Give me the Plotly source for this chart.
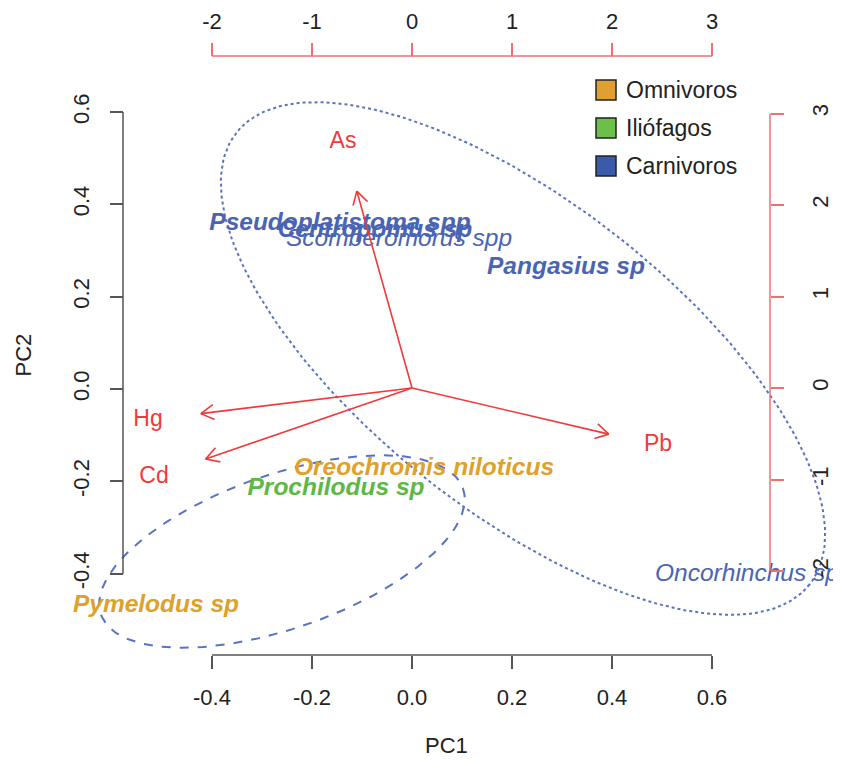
import numpy as np
import plotly.graph_objects as go

# ---------------- data ----------------
species = ["Pseudoplatistoma spp", "Centropomus sp", "Scomberomorus spp", "Pangasius sp",
           "Oreochromis niloticus", "Prochilodus sp", "Pymelodus sp", "Oncorhinchus sp"]
pc1 = [-0.144, -0.074, -0.026, 0.308, 0.024, -0.152, -0.512, 0.670]
pc2 = [0.357, 0.342, 0.322, 0.262, -0.173, -0.217, -0.470, -0.403]
group = ["Carnivoros", "Carnivoros", "Carnivoros", "Carnivoros",
         "Omnivoros", "Iliófagos", "Omnivoros", "Carnivoros"]
bold = [True, True, False, True, True, True, True, False]

metals = ["As", "Hg", "Cd", "Pb"]
load1 = [-0.69, -2.64, -2.58, 2.46]
load2 = [2.69, -0.35, -0.97, -0.63]

legend_labels = ["Omnivoros", "Iliófagos", "Carnivoros"]

x_ticks = [-0.4, -0.2, 0.0, 0.2, 0.4, 0.6]
y_ticks = [-0.4, -0.2, 0.0, 0.2, 0.4, 0.6]
x2_ticks = [-2, -1, 0, 1, 2, 3]
y2_ticks = [-2, -1, 0, 1, 2, 3]

# ellipses (center, two half-axis vectors in PC units)
ell_cx = [0.222, -0.26]
ell_cy = [0.066, -0.352]
ell_ax = [(0.573, -0.4895), (0.362, 0.1365)]
ell_bx = [(-0.192, -0.262), (0.0507, -0.1575)]
ell_dash = ["dot", "dash"]

# ---------------- style / geometry ----------------
FONT = "Liberation Sans, Arial, Helvetica, sans-serif"
group_text_color = {"Omnivoros": "#E0A02C", "Iliófagos": "#5DB845", "Carnivoros": "#4A64B4"}
legend_fill = {"Omnivoros": "#E0A030", "Iliófagos": "#6CC04A", "Carnivoros": "#3A5BAA"}
RED = "#F03A3A"
AXRED = "#F07070"
GRAY = "#555555"
ELL = "#5A72C2"
TXT = "#222222"

OFF = 8  # page body margin of the browser
W, H = 841 - OFF, 761 - OFF


def PX(v):
    return v - OFF


# plot box (pixels) where the R axes sit
BL, BR, BT, BB = PX(123), PX(770), PX(56), PX(655)
# pixel mapping of the four scales (full figure used as plotting area)
X0PX, XPX = PX(412), 500.0     # PC1: pixel of 0, pixels per unit
Y0PX, YPX = PX(389), 461.7     # PC2
X20PX, X2PX = PX(412), 100.0   # loadings x
Y20PX, Y2PX = PX(388), 91.5    # loadings y

xr = [(0 - X0PX) / XPX, (W - X0PX) / XPX]
yr = [(Y0PX - H) / YPX, Y0PX / YPX]
x2r = [(0 - X20PX) / X2PX, (W - X20PX) / X2PX]
y2r = [(Y20PX - H) / Y2PX, Y20PX / Y2PX]

fig = go.Figure()

# ellipses
t = np.linspace(0, 2 * np.pi, 240)
for cx, cy, a, b, d in zip(ell_cx, ell_cy, ell_ax, ell_bx, ell_dash):
    ex = cx + np.cos(t) * a[0] + np.sin(t) * b[0]
    ey = cy + np.cos(t) * a[1] + np.sin(t) * b[1]
    fig.add_trace(go.Scatter(x=ex, y=ey, mode="lines",
                             line=dict(color=ELL, width=2, dash=d),
                             hoverinfo="skip", xaxis="x", yaxis="y"))

# arrows (biplot: arrows drawn to 0.8 * loading, labels at loading)
sx, sy = X2PX, Y2PX
ax_x, ax_y, hx, hy = [], [], [], []
L = 15
for l1, l2 in zip(load1, load2):
    tx, ty = 0.8 * l1, 0.8 * l2
    ax_x += [0, tx, None]
    ax_y += [0, ty, None]
    th = np.arctan2(ty * sy, tx * sx)
    for s in (+1, -1):
        ang = th + s * np.pi / 6
        hx += [tx, tx - L * np.cos(ang) / sx, None]
        hy += [ty, ty - L * np.sin(ang) / sy, None]
fig.add_trace(go.Scatter(x=ax_x, y=ax_y, mode="lines", line=dict(color=RED, width=1.6),
                         xaxis="x2", yaxis="y2", hoverinfo="skip"))
fig.add_trace(go.Scatter(x=hx, y=hy, mode="lines", line=dict(color=RED, width=1.6),
                         xaxis="x2", yaxis="y2", hoverinfo="skip"))
fig.add_trace(go.Scatter(x=load1, y=load2, mode="text", text=metals,
                         textposition="middle center", cliponaxis=False,
                         textfont=dict(family=FONT, size=23, color=RED),
                         xaxis="x2", yaxis="y2", hoverinfo="skip"))

# species labels
labels = []
for s, b in zip(species, bold):
    labels.append(f"<b><i>{s}</i></b>" if b else f"<i>{s}</i>")
fig.add_trace(go.Scatter(x=pc1, y=pc2, mode="text", text=labels,
                         textposition="middle center", cliponaxis=False,
                         textfont=dict(family=FONT, size=24.5,
                                       color=[group_text_color[g] for g in group]),
                         xaxis="x", yaxis="y", hoverinfo="skip"))


def fmt(v):
    return f"{v:.1f}"


common = dict(showgrid=False, zeroline=False, showline=False, automargin=False,
              ticks="outside", ticklen=13, tickwidth=1.5, tickmode="array",
              tickfont=dict(size=22, color=TXT), anchor="free")

fig.update_layout(
    width=W, height=H, autosize=False,
    margin=dict(l=0, r=0, t=0, b=0, pad=0),
    plot_bgcolor="white", paper_bgcolor="white", showlegend=False,
    font=dict(family=FONT, size=22, color=TXT),
    xaxis=dict(range=xr, tickvals=x_ticks, ticktext=[fmt(v) for v in x_ticks],
               tickcolor=GRAY, side="bottom", position=1 - BB / H,
               ticklabelstandoff=10, **common),
    yaxis=dict(range=yr, tickvals=y_ticks, ticktext=[fmt(v) for v in y_ticks],
               tickcolor=GRAY, side="left", position=BL / W, tickangle=-90,
               ticklabelstandoff=12, **common),
    xaxis2=dict(range=x2r, overlaying="x", tickvals=x2_ticks, ticktext=[str(v) for v in x2_ticks],
                tickcolor=AXRED, side="top", position=1 - BT / H,
                ticklabelstandoff=5, **common),
    yaxis2=dict(range=y2r, overlaying="y", tickvals=y2_ticks, ticktext=[str(v) for v in y2_ticks],
                tickcolor=AXRED, side="right", position=BR / W, tickangle=-90,
                ticklabelstandoff=18, **common),
)

shapes = [
    dict(type="line", xref="x", yref="paper", x0=x_ticks[0], x1=x_ticks[-1],
         y0=1 - BB / H, y1=1 - BB / H, line=dict(color=GRAY, width=1.5)),
    dict(type="line", xref="paper", yref="y", x0=BL / W, x1=BL / W,
         y0=y_ticks[0], y1=y_ticks[-1], line=dict(color=GRAY, width=1.5)),
    dict(type="line", xref="x2", yref="paper", x0=x2_ticks[0], x1=x2_ticks[-1],
         y0=1 - BT / H, y1=1 - BT / H, line=dict(color=AXRED, width=1.5)),
    dict(type="line", xref="paper", yref="y2", x0=BR / W, x1=BR / W,
         y0=y2_ticks[0], y1=y2_ticks[-1], line=dict(color=AXRED, width=1.5)),
]

annotations = [
    dict(text="PC1", xref="paper", yref="paper", x=((BL + BR) / 2) / W, y=1 - PX(745) / H,
         showarrow=False, xanchor="center", yanchor="middle", font=dict(size=22, color=TXT)),
    dict(text="PC2", xref="paper", yref="paper", x=PX(23) / W, y=1 - ((BT + BB) / 2) / H,
         textangle=-90, showarrow=False, xanchor="center", yanchor="middle",
         font=dict(size=22, color=TXT)),
]

# legend (top right)
leg_y = [90, 128, 166]
for lab, py in zip(legend_labels, leg_y):
    shapes.append(dict(type="rect", xref="paper", yref="paper",
                       x0=PX(596) / W, x1=PX(616) / W,
                       y0=1 - PX(py + 10) / H, y1=1 - PX(py - 10) / H,
                       fillcolor=legend_fill[lab], line=dict(color=TXT, width=1.5)))
    annotations.append(dict(text=lab, xref="paper", yref="paper", x=PX(624) / W,
                            y=1 - PX(py) / H, showarrow=False, xanchor="left",
                            yanchor="middle", font=dict(size=23, color=TXT)))

fig.update_layout(shapes=shapes, annotations=annotations)
fig.write_html("out.html")
